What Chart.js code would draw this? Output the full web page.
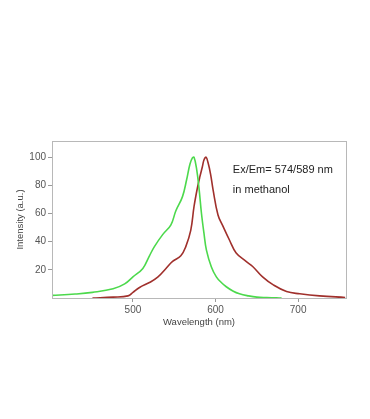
<!DOCTYPE html>
<html>
<head>
<meta charset="utf-8">
<script src="https://cdn.jsdelivr.net/npm/chart.js@4"></script>
<style>
html,body{margin:0;padding:0;background:#fff;}
#wrap{width:370px;height:419px;position:relative;}
</style>
</head>
<body>
<div id="wrap"><canvas id="c" width="370" height="419"></canvas></div>
<script>
// Excitation (green) spectrum
const exWavelength = [401, 430, 451, 476, 490, 500, 512, 520, 526, 536, 546, 552, 560, 565, 569, 572, 574, 577, 580, 583, 586, 589, 595, 601, 607, 613, 621, 629, 640, 650, 662, 674, 680];
const exIntensity  = [1.8, 2.8, 4, 6.5, 10, 15, 21, 30, 36.5, 45, 52, 62, 72, 84, 95, 99.5, 100, 92, 78, 60, 46, 34, 22, 15, 11, 8, 5, 3, 1.5, 0.6, 0.3, 0.1, 0];
// Emission (red) spectrum
const emWavelength = [451, 476, 494, 500, 508, 520, 530, 540, 548, 558, 564, 570, 574, 578, 581, 584, 586, 588.5, 591, 594, 597, 603, 609, 617, 625, 637, 645, 657, 670, 686, 702, 726, 757];
const emIntensity  = [0, 0.6, 1.5, 4, 7.5, 11, 14.8, 21, 26, 30, 36.5, 48, 65, 78, 86, 93, 98, 100, 96, 88, 77, 59, 51, 41, 32, 26, 22.4, 15, 9.3, 4.6, 3, 1.5, 0.4];
const xTicks = [500, 600, 700];
const yTicks = [20, 40, 60, 80, 100];
const annotationLines = ["Ex/Em= 574/589 nm", "in methanol"];

const toPts = (xs, ys) => xs.map((x, i) => ({x: x, y: ys[i]}));

const frame = {
  id: 'frame',
  afterDatasetsDraw(chart) {
    const {ctx, chartArea: a} = chart;
    ctx.save();
    ctx.strokeStyle = '#b8b8b8';
    ctx.lineWidth = 1;
    ctx.strokeRect(Math.round(a.left) + 0.5, Math.round(a.top) + 0.5, Math.round(a.right - a.left), Math.round(a.bottom - a.top));
    ctx.fillStyle = '#222';
    ctx.font = '11px "Liberation Sans", Arial, sans-serif';
    ctx.textBaseline = 'middle';
    const x0 = chart.scales.x.getPixelForValue(621);
    const y0 = chart.scales.y.getPixelForValue(91);
    ctx.fillText(annotationLines[0], x0, y0);
    ctx.fillText(annotationLines[1], x0, y0 + 20);
    ctx.restore();
  }
};

new Chart(document.getElementById('c'), {
  type: 'scatter',
  data: {
    datasets: [
      {data: toPts(exWavelength, exIntensity), showLine: true, borderColor: '#4cd94c', borderWidth: 1.6, pointRadius: 0, tension: 0.4, fill: false},
      {data: toPts(emWavelength, emIntensity), showLine: true, borderColor: '#a0302c', borderWidth: 1.6, pointRadius: 0, tension: 0.4, fill: false}
    ]
  },
  options: {
    responsive: false,
    animation: false,
    layout: {padding: {left: 0, top: 141, right: 24, bottom: 91}},
    plugins: {legend: {display: false}, tooltip: {enabled: false}},
    scales: {
      x: {
        type: 'linear', min: 402, max: 758,
        afterBuildTicks: s => { s.ticks = xTicks.map(v => ({value: v})); },
        afterFit: s => { s.height = 30; },
        grid: {drawOnChartArea: false, tickLength: 4, color: '#999'},
        border: {display: false},
        ticks: {color: '#555', font: {size: 10, family: '"Liberation Sans", Arial, sans-serif'}, padding: 2, maxRotation: 0},
        title: {display: true, text: 'Wavelength (nm)', color: '#444', font: {size: 9.5, family: '"Liberation Sans", Arial, sans-serif'}, padding: {top: 0, bottom: 0}}
      },
      y: {
        min: 0, max: 111.5,
        afterBuildTicks: s => { s.ticks = yTicks.map(v => ({value: v})); },
        afterFit: s => { s.width = 52; },
        grid: {drawOnChartArea: false, tickLength: 4, color: '#999'},
        border: {display: false},
        ticks: {color: '#555', font: {size: 10, family: '"Liberation Sans", Arial, sans-serif'}, padding: 2},
        title: {display: true, text: 'Intensity (a.u.)', color: '#444', font: {size: 9.5, family: '"Liberation Sans", Arial, sans-serif'}, padding: {top: 15, bottom: 0}}
      }
    }
  },
  plugins: [frame]
});
</script>
</body>
</html>
